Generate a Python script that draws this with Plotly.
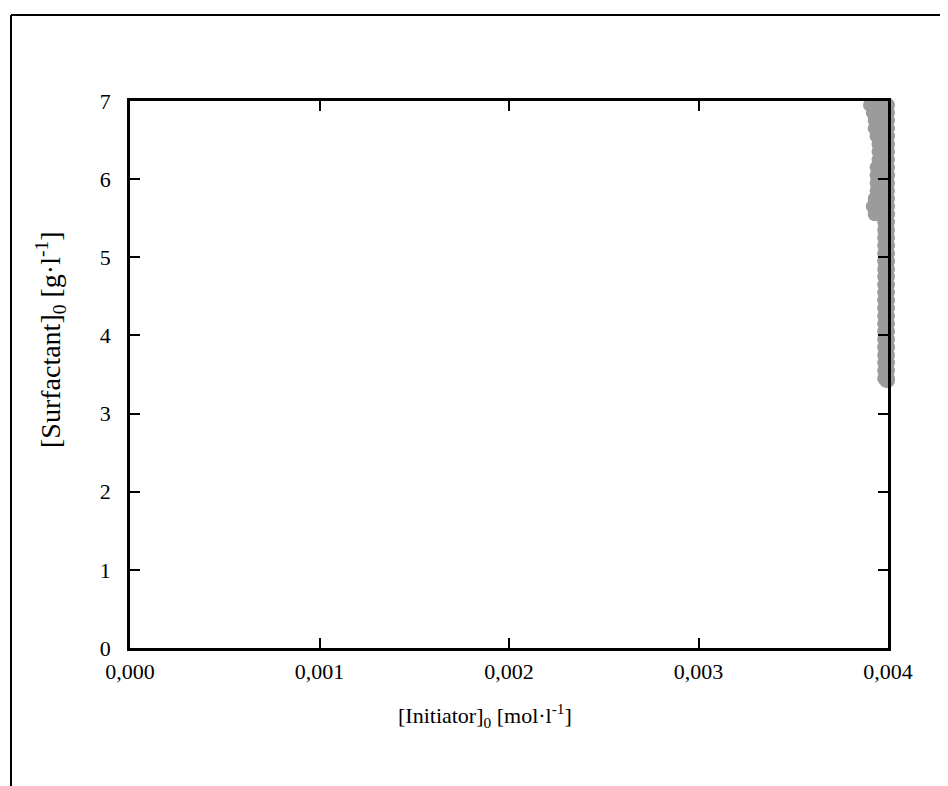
import plotly.graph_objects as go

# Pareto-region points
surfactant_rows = [6.95, 6.85, 6.75, 6.65, 6.55, 6.45, 6.35, 6.25, 6.15, 6.05, 5.95,
                   5.85, 5.75, 5.65, 5.55, 5.45, 5.35, 5.25, 5.15, 5.05, 4.95, 4.85,
                   4.75, 4.65, 4.55, 4.45, 4.35, 4.25, 4.15, 4.05, 3.95, 3.85, 3.75,
                   3.65, 3.55, 3.45, 3.42]
initiator_left = [0.003905, 0.00392, 0.00393, 0.00393, 0.00394, 0.00395, 0.00395, 0.00395,
                  0.00394, 0.00394, 0.00394, 0.00394, 0.00393, 0.00392, 0.00393, 0.00398,
                  0.00398, 0.00398, 0.00398, 0.00398, 0.00398, 0.00398, 0.00398, 0.00398,
                  0.00398, 0.00398, 0.00398, 0.00398, 0.00398, 0.00398, 0.00398, 0.00398,
                  0.00398, 0.00398, 0.00398, 0.00398, 0.00399]
initiator_right = 0.0040

x_ticks = [0.000, 0.001, 0.002, 0.003, 0.004]
x_tick_labels = ["0,000", "0,001", "0,002", "0,003", "0,004"]
y_ticks = [0, 1, 2, 3, 4, 5, 6, 7]

xs, ys = [], []
for y, xl in zip(surfactant_rows, initiator_left):
    for x in (xl, (xl + initiator_right) / 2, initiator_right):
        xs.append(x)
        ys.append(y)

GRAY = "#9b9b9b"
FONT = "Liberation Serif"

# page body adds an 8px offset; figure coordinates below are window minus 8
OFF = 8
L, R, T, B = 130 - OFF, 888 - OFF, 101 - OFF, 648 - OFF
PW, PH = R - L, B - T


def px(xw):
    return (xw - OFF - L) / PW


def py(yw):
    return (B - (yw - OFF)) / PH


fig = go.Figure()
fig.add_trace(go.Scatter(
    x=xs, y=ys, mode="markers",
    marker=dict(size=14, color=GRAY, line=dict(width=0)),
    cliponaxis=False, hoverinfo="skip", showlegend=False,
))

axis_common = dict(
    showgrid=False, zeroline=False, showline=True, linecolor="black", linewidth=2.5,
    mirror="ticks", ticks="inside", ticklen=10, tickwidth=2, tickcolor="black",
    tickfont=dict(family=FONT, size=22, color="black"),
)

fig.update_layout(
    width=948, height=786,
    margin=dict(l=L, r=948 - R, t=T, b=786 - B),
    paper_bgcolor="white", plot_bgcolor="white",
    font=dict(family=FONT, color="black"),
    xaxis=dict(range=[0, 0.004], tickvals=x_ticks, ticktext=x_tick_labels,
               ticklabelstandoff=2, **axis_common),
    yaxis=dict(range=[0, 7], tickvals=y_ticks, ticklabelstandoff=12, **axis_common),
    showlegend=False,
    annotations=[
        dict(text="[Initiator]<sub>0</sub> [mol·l<sup>-1</sup>]", xref="paper", yref="paper",
             x=px(485), y=py(715), showarrow=False,
             xanchor="center", yanchor="middle", font=dict(family=FONT, size=22)),
        dict(text="[Surfactant]<sub>0</sub> [g·l<sup>-1</sup>]", xref="paper", yref="paper",
             x=px(50), y=py(340), showarrow=False, textangle=-90,
             xanchor="center", yanchor="middle", font=dict(family=FONT, size=28)),
    ],
    shapes=[
        dict(type="line", xref="paper", yref="paper",
             x0=px(11), x1=px(960), y0=py(15), y1=py(15),
             line=dict(color="black", width=2)),
        dict(type="line", xref="paper", yref="paper",
             x0=px(11), x1=px(11), y0=py(15), y1=py(800),
             line=dict(color="black", width=2)),
    ],
)

fig.write_html("out.html")
